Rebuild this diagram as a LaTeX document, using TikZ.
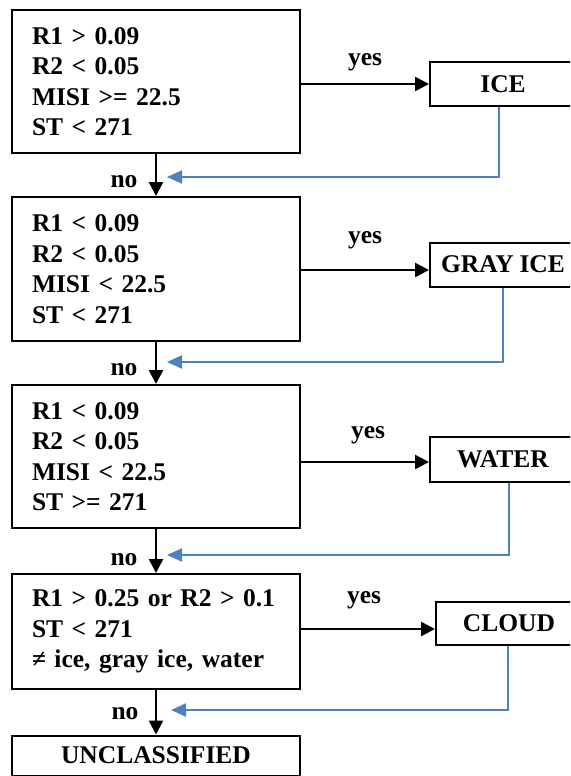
\documentclass[tikz,border=0pt]{standalone}
\usepackage{fontspec}
\setmainfont{Liberation Serif}[WordSpace=0.9]
\usetikzlibrary{arrows.meta}
\definecolor{lineblue}{RGB}{79,129,189}
\begin{document}
\begin{tikzpicture}[x=1pt,y=-1pt,
  every node/.style={font=\fontsize{25.5}{30.5}\selectfont\bfseries},
  cond/.style={draw, line width=2pt, minimum width=288pt, text width=248pt, inner xsep=20pt, align=left, inner ysep=0pt},
  result/.style={draw, line width=2pt, minimum width=146pt, inner sep=0pt, align=center},
  lbl/.style={inner sep=0pt},
  arr/.style={line width=2.5pt, -{Triangle[length=14pt,width=14pt]}},
  barr/.style={line width=2pt, draw=lineblue, -{Triangle[length=15pt,width=13pt]}}]
\clip (0,0) rectangle (570,776);
\fill[white] (0,0) rectangle (570,776);

\node[cond, minimum height=143pt] (c1) at (156,81.5) {R1 > 0.09\\R2 < 0.05\\MISI >= 22.5\\ST < 271};
\node[cond, minimum height=144pt] (c2) at (156,269) {R1 < 0.09\\R2 < 0.05\\MISI < 22.5\\ST < 271};
\node[cond, minimum height=143pt] (c3) at (156,456.5) {R1 < 0.09\\R2 < 0.05\\MISI < 22.5\\ST >= 271};
\node[cond, minimum height=115pt] (c4) at (156,631.5) {R1 > 0.25 or R2 > 0.1\\ST < 271\\≠ ice, gray ice, water};
\node[result, minimum width=288pt, minimum height=40pt] (u) at (156,755.5) {UNCLASSIFIED};

\node[result, minimum height=44pt] (ice) at (503,84) {ICE};
\node[result, minimum height=44pt] (gi) at (503,264.5) {GRAY ICE};
\node[result, minimum height=45pt] (wa) at (503,459.5) {WATER};
\node[result, minimum height=43pt] (cl) at (509,623.5) {CLOUD};

\node[lbl] (y1) at (365,62) {yes};
\node[lbl] (y2) at (365,240) {yes};
\node[lbl] (y3) at (368,435) {yes};
\node[lbl] (y4) at (364,600) {yes};

\node[lbl] (n1) at (124,182) {no};
\node[lbl] (n2) at (124,370) {no};
\node[lbl] (n3) at (124,560) {no};
\node[lbl] (n4) at (125,714) {no};

% yes arrows
\draw[arr] (c1.east |- 0,84) -- (ice.west |- 0,84);
\draw[arr] (c2.east |- 0,270) -- (gi.west |- 0,270);
\draw[arr] (c3.east |- 0,462) -- (wa.west |- 0,462);
\draw[arr] (c4.east |- 0,629) -- (cl.west |- 0,629);

% no arrows
\draw[arr] (c1.south) -- (c2.north);
\draw[arr] (c2.south) -- (c3.north);
\draw[arr] (c3.south) -- (c4.north);
\draw[arr] (c4.south) -- (u.north);

% return lines
\coordinate (t1) at (167,177);
\coordinate (t2) at (167,362);
\coordinate (t3) at (167,555);
\coordinate (t4) at (171,710);
\draw[barr] ([xshift=-4pt]ice.south) |- (t1);
\draw[barr] (gi.south) |- (t2);
\draw[barr] ([xshift=6pt]wa.south) |- (t3);
\draw[barr] ([xshift=-1pt]cl.south) |- (t4);
\end{tikzpicture}
\end{document}
